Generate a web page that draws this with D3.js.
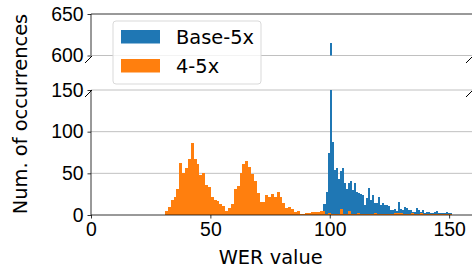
<!DOCTYPE html>
<meta charset="utf-8">
<style>
body { margin: 0; background: #fff; }
svg { font-family: "DejaVu Sans", sans-serif; }
.axis text { font-size: 19.4px; fill: #000; }
.axis line { stroke: #000; stroke-width: 0.8; }
.axis path { display: none; }
.grid line { stroke: #b0b0b0; stroke-width: 0.8; }
.spine { stroke: #000; stroke-width: 0.8; fill: none; }
</style>
<body>
<svg width="472" height="267"></svg>
<script src="https://cdn.jsdelivr.net/npm/d3@7"></script>
<script>

// histogram counts
var seriesNames = ["Base-5x", "4-5x"];
var seriesColors = ["#1f77b4", "#ff7f0e"];

// Base-5x : bins of 0.84 starting at 94.02
var baseStart = 94.02, baseWidth = 0.84;
var baseCounts = [1, 2, 2, 5, 13, 28, 75, 615, 88, 54,
  57, 43, 53, 57, 38, 31, 39, 41, 30, 38,
  28, 26, 25, 24, 12, 20, 32, 18, 24, 15,
  14, 22, 12, 14, 12, 12, 11, 6, 6, 7,
  5, 16, 7, 6, 10, 8, 6, 6, 4, 4,
  9, 6, 4, 6, 3, 4, 4, 2, 2, 4,
  5, 3, 2, 2, 3, 4, 2, 2];

// 4-5x : bins of 1.2 starting at 31
var fourStart = 31.0, fourWidth = 1.2;
var fourCounts = [5, 10, 18, 22, 31, 63, 50, 57, 67, 87,
  67, 61, 48, 50, 36, 34, 22, 18, 17, 13,
  11, 5, 8, 13, 31, 35, 50, 61, 65, 58,
  49, 41, 26, 16, 16, 24, 22, 25, 22, 28,
  22, 15, 8, 10, 7, 4, 5, 1, 1, 2,
  2, 4, 4, 4, 5, 5, 1, 3, 1, 1,
  1, 7, 1, 1, 5, 1, 1, 2, 1, 1,
  1, 1, 1, 3, 1, 1, 1, 1, 1, 1,
  3, 3, 3, 1, 1, 1, 3, 1, 1, 3,
  1, 1, 1, 1, 1, 1, 1, 1, 1, 1];

var xTicks = [0, 50, 100, 150];
var yTicksLow = [0, 50, 100, 150];
var yTicksHigh = [600, 650];

var svg = d3.select("svg");

var x = d3.scaleLinear().domain([0, 160]).range([91, 473]);
var yLow = d3.scaleLinear().domain([0, 150]).range([215, 90]);
var yHigh = d3.scaleLinear().domain([600, 650]).range([55.5, 14]);

function bins(start, w, counts) {
  return counts.map(function(c, i) { return {x0: start + i * w, x1: start + (i + 1) * w, v: c}; });
}
var series = [bins(baseStart, baseWidth, baseCounts), bins(fourStart, fourWidth, fourCounts)];

// clip paths for the two panels
var defs = svg.append("defs");
defs.append("clipPath").attr("id", "clipLow").append("rect")
  .attr("x", 91).attr("y", 90).attr("width", 382).attr("height", 125);
defs.append("clipPath").attr("id", "clipHigh").append("rect")
  .attr("x", 91).attr("y", 14).attr("width", 382).attr("height", 41.5);

// grid
var grid = svg.append("g").attr("class", "grid");
grid.selectAll("line.low").data(yTicksLow.slice(1)).enter().append("line")
  .attr("x1", 91).attr("x2", 473)
  .attr("y1", function(d) { return yLow(d); }).attr("y2", function(d) { return yLow(d); });
grid.selectAll("line.high").data([600]).enter().append("line")
  .attr("x1", 91).attr("x2", 473)
  .attr("y1", function(d) { return yHigh(d); }).attr("y2", function(d) { return yHigh(d); });

// bars
var low = svg.append("g").attr("clip-path", "url(#clipLow)");
var high = svg.append("g").attr("clip-path", "url(#clipHigh)");
series.forEach(function(s, i) {
  low.append("g").selectAll("rect").data(s).enter().append("rect")
    .attr("shape-rendering", "crispEdges")
    .attr("fill", seriesColors[i])
    .attr("x", function(d) { return x(d.x0); })
    .attr("width", function(d) { return x(d.x1) - x(d.x0); })
    .attr("y", function(d) { return yLow(Math.min(d.v, 160)); })
    .attr("height", function(d) { return yLow(0) - yLow(Math.min(d.v, 160)); });
  high.append("g").selectAll("rect").data(s.filter(function(d) { return d.v > 600; })).enter().append("rect")
    .attr("shape-rendering", "crispEdges")
    .attr("fill", seriesColors[i])
    .attr("x", function(d) { return x(d.x0); })
    .attr("width", function(d) { return x(d.x1) - x(d.x0); })
    .attr("y", function(d) { return yHigh(d.v); })
    .attr("height", function(d) { return yHigh(595) - yHigh(d.v); });
});

// axes
svg.append("g").attr("class", "axis")
  .attr("transform", "translate(0,215)")
  .call(d3.axisBottom(x).tickValues(xTicks).tickSize(3.5).tickPadding(4));
svg.append("g").attr("class", "axis")
  .attr("transform", "translate(91,0)")
  .call(d3.axisLeft(yLow).tickValues(yTicksLow).tickSize(3.5).tickPadding(4));
svg.append("g").attr("class", "axis")
  .attr("transform", "translate(91,0)")
  .call(d3.axisLeft(yHigh).tickValues(yTicksHigh).tickSize(3.5).tickPadding(4));

// spines
svg.append("line").attr("class", "spine").attr("x1", 91).attr("x2", 91).attr("y1", 14).attr("y2", 55.5);
svg.append("line").attr("class", "spine").attr("x1", 91).attr("x2", 91).attr("y1", 90).attr("y2", 215);
svg.append("line").attr("class", "spine").attr("x1", 91).attr("x2", 473).attr("y1", 14).attr("y2", 14);
svg.append("line").attr("class", "spine").attr("x1", 91).attr("x2", 473).attr("y1", 215).attr("y2", 215);

// break marks
[[91, 56], [472, 56], [91, 90], [472, 90]].forEach(function(p) {
  svg.append("line").attr("stroke", "#000").attr("stroke-width", 1)
    .attr("x1", p[0] - 6).attr("y1", p[1] + 7)
    .attr("x2", p[0] + 1).attr("y2", p[1]);
});

// labels
svg.append("text").attr("x", 270.7).attr("y", 263.5)
  .attr("text-anchor", "middle").style("font-size", "19.4px")
  .text("WER value");
svg.append("text").attr("transform", "translate(27,114) rotate(-90)")
  .attr("text-anchor", "middle").style("font-size", "19.4px")
  .text("Num. of occurrences");

// legend
var legend = svg.append("g");
legend.append("rect").attr("x", 113).attr("y", 21).attr("width", 148).attr("height", 63)
  .attr("rx", 3).attr("fill", "#fff").attr("fill-opacity", 0.8)
  .attr("stroke", "#d9d9d9").attr("stroke-width", 1);
seriesNames.forEach(function(name, i) {
  legend.append("rect").attr("x", 121).attr("y", 30 + i * 29)
    .attr("width", 39).attr("height", 13.5).attr("fill", seriesColors[i]);
  legend.append("text").attr("x", 176).attr("y", 44 + i * 28.5)
    .style("font-size", "19.4px").text(name);
});

</script>
